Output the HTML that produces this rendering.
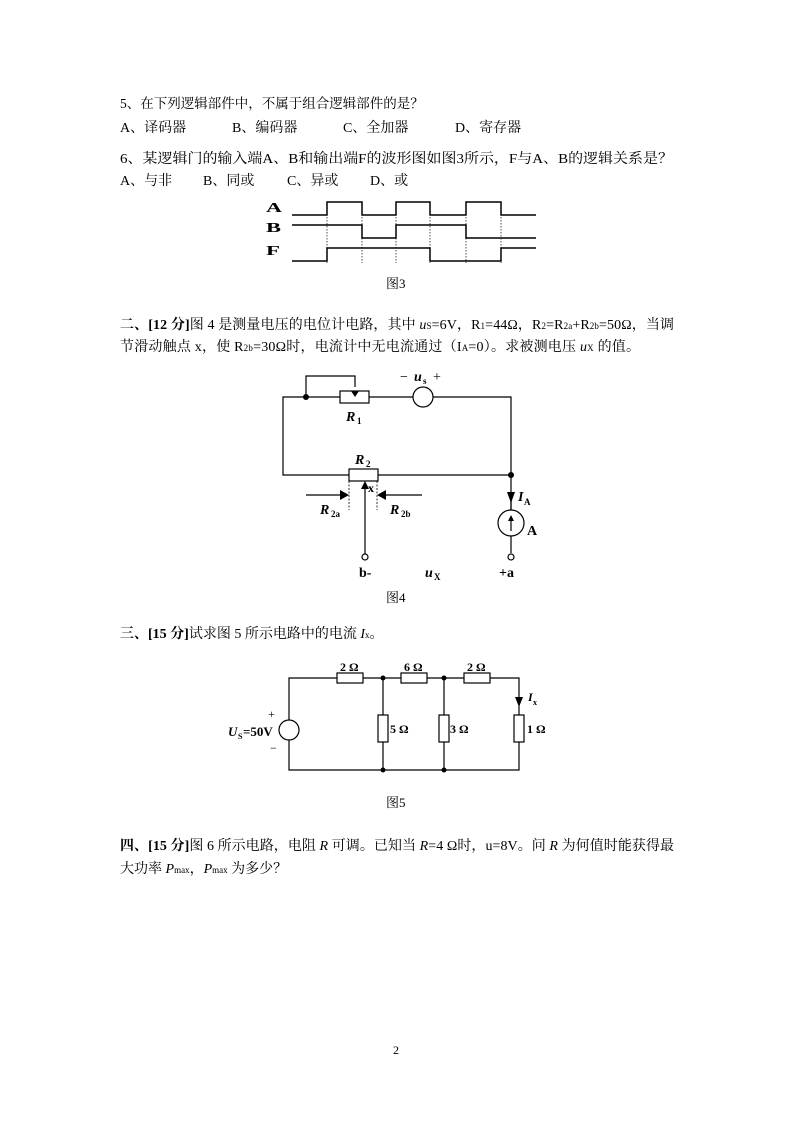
<!DOCTYPE html>
<html><head><meta charset="utf-8"><style>
html,body{margin:0;padding:0;background:#fff}
svg{display:block}
text{font-family:"Liberation Serif","Noto Serif CJK SC","Noto Sans CJK SC",serif;fill:#000}
</style></head><body>
<svg width="793" height="1122" viewBox="0 0 793 1122" xmlns="http://www.w3.org/2000/svg">
<g font-size="14">
<text x="120" y="108" font-size="13.5">5、在下列逻辑部件中，不属于组合逻辑部件的是？</text>
<text x="120" y="132">A、译码器</text><text x="232" y="132">B、编码器</text><text x="343" y="132">C、全加器</text><text x="455" y="132">D、寄存器</text>
<text x="120" y="163" textLength="553" lengthAdjust="spacingAndGlyphs">6、某逻辑门的输入端A、B和输出端F的波形图如图3所示，F与A、B的逻辑关系是？</text>
<text x="120" y="185">A、与非</text><text x="203" y="185">B、同或</text><text x="287" y="185">C、异或</text><text x="370" y="185">D、或</text>
<text x="386" y="288" font-size="13">图3</text>
<text x="120" y="329" textLength="554" lengthAdjust="spacing"><tspan font-weight="bold">二、[12 分]</tspan>图 4 是测量电压的电位计电路，其中 <tspan font-style="italic">u</tspan><tspan font-size="9">S</tspan>=6V，R<tspan font-size="9">1</tspan>=44Ω，R<tspan font-size="9">2</tspan>=R<tspan font-size="9">2a</tspan>+R<tspan font-size="9">2b</tspan>=50Ω，当调</text>
<text x="120" y="351" textLength="520" lengthAdjust="spacing">节滑动触点 x，使 R<tspan font-size="9">2b</tspan>=30Ω时，电流计中无电流通过（I<tspan font-size="9">A</tspan>=0）。求被测电压 <tspan font-style="italic">u</tspan><tspan font-size="9">X</tspan> 的值。</text>
<text x="386" y="602" font-size="13">图4</text>
<text x="120" y="638"><tspan font-weight="bold">三、[15 分]</tspan>试求图 5 所示电路中的电流 <tspan font-style="italic">I</tspan><tspan font-size="9">x</tspan>。</text>
<text x="386" y="807" font-size="13">图5</text>
<text x="120" y="850" textLength="554" lengthAdjust="spacing"><tspan font-weight="bold">四、[15 分]</tspan>图 6 所示电路，电阻 <tspan font-style="italic">R</tspan> 可调。已知当 <tspan font-style="italic">R</tspan>=4 Ω时，u=8V。问 <tspan font-style="italic">R</tspan> 为何值时能获得最</text>
<text x="120" y="873">大功率 <tspan font-style="italic">P</tspan><tspan font-size="9">max</tspan>，<tspan font-style="italic">P</tspan><tspan font-size="9">max</tspan> 为多少？</text>
<text x="393" y="1054" font-size="12">2</text>
</g>

<!-- Fig 3 waveforms -->
<g font-size="14" font-weight="bold">
<text x="266" y="212" textLength="16" lengthAdjust="spacingAndGlyphs">A</text><text x="266" y="232" textLength="15" lengthAdjust="spacingAndGlyphs">B</text><text x="266" y="255" textLength="14" lengthAdjust="spacingAndGlyphs">F</text>
</g>
<g fill="none" stroke="#000" stroke-width="1.5">
<polyline points="292,215 327,215 327,202 362,202 362,215 396,215 396,202 430,202 430,215 466,215 466,202 501,202 501,215 536,215"/>
<polyline points="292,225 362,225 362,238 396,238 396,225 466,225 466,238 536,238"/>
<polyline points="292,261 327,261 327,248 430,248 430,261 501,261 501,248 536,248"/>
</g>
<g stroke="#000" stroke-width="0.7" stroke-dasharray="1.5,1.5">
<line x1="327" y1="202" x2="327" y2="263"/><line x1="362" y1="202" x2="362" y2="263"/>
<line x1="396" y1="202" x2="396" y2="263"/><line x1="430" y1="202" x2="430" y2="263"/>
<line x1="466" y1="202" x2="466" y2="263"/><line x1="501" y1="202" x2="501" y2="263"/>
</g>

<!-- Fig 4 -->
<g fill="none" stroke="#000" stroke-width="1.2">
<polyline points="340,397 283,397 283,475 349,475"/>
<line x1="369" y1="397" x2="413" y2="397"/>
<polyline points="433,397 511,397 511,510"/>
<line x1="378" y1="475" x2="511" y2="475"/>
<polyline points="306,397 306,376 355,376 355,387"/>
<rect x="340" y="391" width="29" height="12" fill="#fff"/>
<circle cx="423" cy="397" r="10" fill="#fff"/>
<rect x="349" y="469" width="29" height="12" fill="#fff"/>
<line x1="511" y1="500" x2="511" y2="553"/>
<circle cx="511" cy="523" r="13" fill="#fff"/>
<line x1="511" y1="531" x2="511" y2="517"/>
<circle cx="511" cy="557" r="3" fill="#fff"/>
<line x1="365" y1="487" x2="365" y2="554"/>
<circle cx="365" cy="557" r="3" fill="#fff"/>
<line x1="306" y1="495" x2="343" y2="495"/>
<line x1="384" y1="495" x2="422" y2="495"/>
</g>
<g stroke="#000" stroke-width="0.8" stroke-dasharray="2,1.5">
<line x1="349" y1="481" x2="349" y2="510"/><line x1="377" y1="481" x2="377" y2="510"/>
</g>
<g fill="#000">
<circle cx="306" cy="397" r="3"/><circle cx="511" cy="475" r="3"/>
<polygon points="351,391 359,391 355,397"/>
<polygon points="507,492 515,492 511,503"/>
<polygon points="508,521 514,521 511,515"/>
<polygon points="361,489 369,489 365,481"/>
<polygon points="340,490 340,500 349,495"/>
<polygon points="386,490 386,500 377,495"/>
</g>
<g font-weight="bold" font-family="Liberation Sans,sans-serif" font-size="14">
<text x="346" y="421" font-style="italic">R</text><text x="357" y="424" font-size="9">1</text>
<text x="355" y="464" font-style="italic">R</text><text x="366" y="467" font-size="9">2</text>
<text x="368" y="492" font-size="12">x</text>
<text x="320" y="514" font-style="italic">R</text><text x="331" y="517" font-size="9">2a</text>
<text x="390" y="514" font-style="italic">R</text><text x="401" y="517" font-size="9">2b</text>
<text x="400" y="381" font-weight="normal">−</text>
<text x="414" y="381" font-style="italic">u</text><text x="423" y="384" font-size="9">s</text>
<text x="433" y="381" font-weight="normal">+</text>
<text x="518" y="501" font-style="italic">I</text><text x="524" y="505" font-size="9">A</text>
<text x="527" y="535">A</text>
<text x="359" y="577">b-</text>
<text x="425" y="577" font-style="italic">u</text><text x="434" y="580" font-size="9">X</text>
<text x="499" y="577">+a</text>
</g>

<!-- Fig 5 -->
<g fill="none" stroke="#000" stroke-width="1.2">
<polyline points="289,720 289,678 519,678 519,715"/>
<polyline points="289,740 289,770 519,770 519,742"/>
<line x1="383" y1="678" x2="383" y2="770"/>
<line x1="444" y1="678" x2="444" y2="770"/>
<circle cx="289" cy="730" r="10" fill="#fff"/>
<rect x="337" y="673" width="26" height="10" fill="#fff"/>
<rect x="401" y="673" width="26" height="10" fill="#fff"/>
<rect x="464" y="673" width="26" height="10" fill="#fff"/>
<rect x="378" y="715" width="10" height="27" fill="#fff"/>
<rect x="439" y="715" width="10" height="27" fill="#fff"/>
<rect x="514" y="715" width="10" height="27" fill="#fff"/>
</g>
<g fill="#000">
<circle cx="383" cy="678" r="2.5"/><circle cx="444" cy="678" r="2.5"/>
<circle cx="383" cy="770" r="2.5"/><circle cx="444" cy="770" r="2.5"/>
<polygon points="515,697 523,697 519,707"/>
</g>
<g font-family="Liberation Serif,serif" font-size="12" font-weight="bold">
<text x="340" y="671">2 Ω</text><text x="404" y="671">6 Ω</text><text x="467" y="671">2 Ω</text>
<text x="390" y="733">5 Ω</text><text x="450" y="733">3 Ω</text><text x="527" y="733">1 Ω</text>
<text x="528" y="701" font-style="italic">I</text><text x="533" y="705" font-size="8">x</text>
<text x="268" y="718" font-weight="normal">+</text>
<text x="270" y="752" font-weight="normal">−</text>
<text x="228" y="736" font-style="italic" font-size="13">U</text><text x="238" y="739" font-size="8">S</text><text x="243" y="736" font-size="13">=50V</text>
</g>
</svg>
</body></html>
